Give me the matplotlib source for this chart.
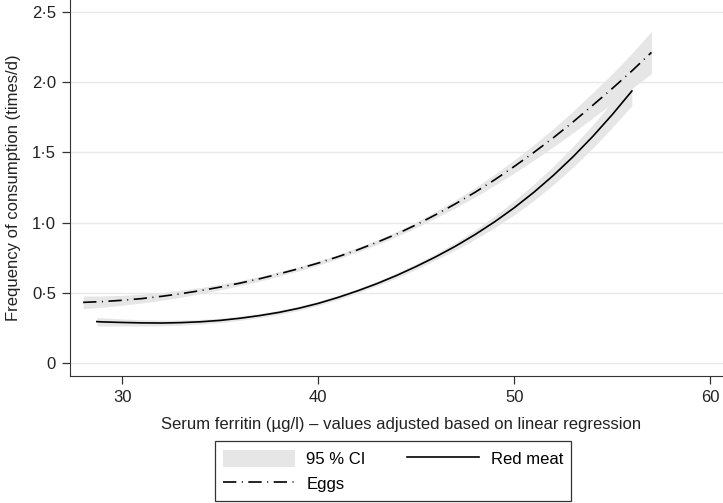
import matplotlib
matplotlib.use("Agg")
import matplotlib.pyplot as plt
from matplotlib.patches import Patch
from matplotlib.lines import Line2D
import numpy as np

plt.rcParams['font.family'] = ['Liberation Sans', 'DejaVu Sans']

# Eggs fitted curve and CI half-width
eggs_x = [28, 29, 30, 31, 32, 33, 34, 35, 36, 37, 38, 39, 40, 41, 42, 43, 44, 45, 46, 47,
          48, 49, 50, 51, 52, 53, 54, 55, 56, 57]
eggs_y = [0.432, 0.438, 0.447, 0.459, 0.475, 0.494, 0.516, 0.541, 0.569, 0.600, 0.635, 0.672,
          0.712, 0.757, 0.806, 0.860, 0.919, 0.985, 1.057, 1.134, 1.216, 1.305, 1.400, 1.500,
          1.605, 1.717, 1.835, 1.955, 2.080, 2.212]
eggs_ci = [0.045, 0.040, 0.035, 0.031, 0.028, 0.025, 0.022, 0.020, 0.018, 0.017, 0.016, 0.015,
           0.015, 0.015, 0.016, 0.017, 0.018, 0.020, 0.024, 0.028, 0.033, 0.039, 0.046, 0.055,
           0.065, 0.077, 0.090, 0.105, 0.125, 0.150]

# Red meat fitted curve and CI half-width
meat_x = [28.7, 29, 30, 31, 32, 33, 34, 35, 36, 37, 38, 39, 40, 41, 42, 43, 44, 45, 46, 47,
          48, 49, 50, 51, 52, 53, 54, 55, 56]
meat_y = [0.295, 0.293, 0.289, 0.286, 0.285, 0.288, 0.294, 0.304, 0.319, 0.338, 0.361, 0.390,
          0.425, 0.467, 0.514, 0.566, 0.624, 0.688, 0.757, 0.832, 0.915, 1.006, 1.106, 1.216,
          1.337, 1.469, 1.613, 1.769, 1.937]
meat_ci = [0.030, 0.029, 0.025, 0.022, 0.020, 0.018, 0.017, 0.016, 0.015, 0.015, 0.015, 0.015,
           0.015, 0.015, 0.015, 0.016, 0.018, 0.020, 0.022, 0.027, 0.033, 0.041, 0.050, 0.058,
           0.066, 0.074, 0.082, 0.092, 0.105]

xticks = [30, 40, 50, 60]
yticks = [0, 0.5, 1.0, 1.5, 2.0, 2.5]
ytick_labels = ['0', '0·5', '1·0', '1·5', '2·0', '2·5']

fig = plt.figure(figsize=(7.23, 5.03), dpi=100)
ax = fig.add_axes([70/723, 1-375.7/503, 1-70/723, 375.7/503])

band = '#e6e6e6'
ex, ey, ec = np.array(eggs_x), np.array(eggs_y), np.array(eggs_ci)
mx, my, mc = np.array(meat_x), np.array(meat_y), np.array(meat_ci)

for yv in yticks:
    ax.axhline(yv, color='#e9e9e9', lw=1.0, zorder=0)

ax.fill_between(ex, ey - ec, ey + ec, color=band, lw=0, zorder=1)
ax.fill_between(mx, my - mc, my + mc, color=band, lw=0, zorder=1)
ax.plot(mx, my, color='black', lw=1.2, zorder=3)
ax.plot(ex, ey, color='black', lw=1.2, dashes=(8.0, 3.3, 0.6, 3.3), zorder=3)

ax.set_xlim(27.33, 60.65)
ax.set_ylim(-0.09, 2.585)
ax.set_xticks(xticks)
ax.set_yticks(yticks)
ax.set_yticklabels(ytick_labels)
ax.spines['top'].set_visible(False)
ax.spines['right'].set_visible(False)
ax.spines['left'].set_color('#333333')
ax.spines['bottom'].set_color('#333333')
ax.tick_params(axis='both', direction='out', length=6, width=0.9, colors='#333333',
               labelcolor='#222222', labelsize=12, pad=4)
ax.set_xlabel('Serum ferritin (µg/l) – values adjusted based on linear regression',
              fontsize=12, color='#222222', labelpad=8)
ax.xaxis.set_label_coords(0.5 + 5/653, -0.111)
ax.xaxis.label.set_verticalalignment('top')
ax.set_ylabel('Frequency of consumption (times/d)', fontsize=12, color='#222222', labelpad=8)

handles = [Patch(facecolor=band, edgecolor='none', label='95 % CI'),
           Line2D([], [], color='black', lw=1.2, dashes=(8.0, 3.3, 0.6, 3.3), label='Eggs'),
           Line2D([], [], color='black', lw=1.2, label='Red meat')]
leg = fig.legend(handles=handles, ncol=2, loc='center', bbox_to_anchor=(393/723, 1-471/503),
                 frameon=True, fancybox=False, fontsize=12, handlelength=4.3,
                 handleheight=1.2, handletextpad=0.7, columnspacing=2.5,
                 borderpad=0.5, labelspacing=0.5, borderaxespad=0)
leg.get_frame().set_edgecolor('black')
leg.get_frame().set_linewidth(0.9)

fig.savefig('out.png', dpi=100)
